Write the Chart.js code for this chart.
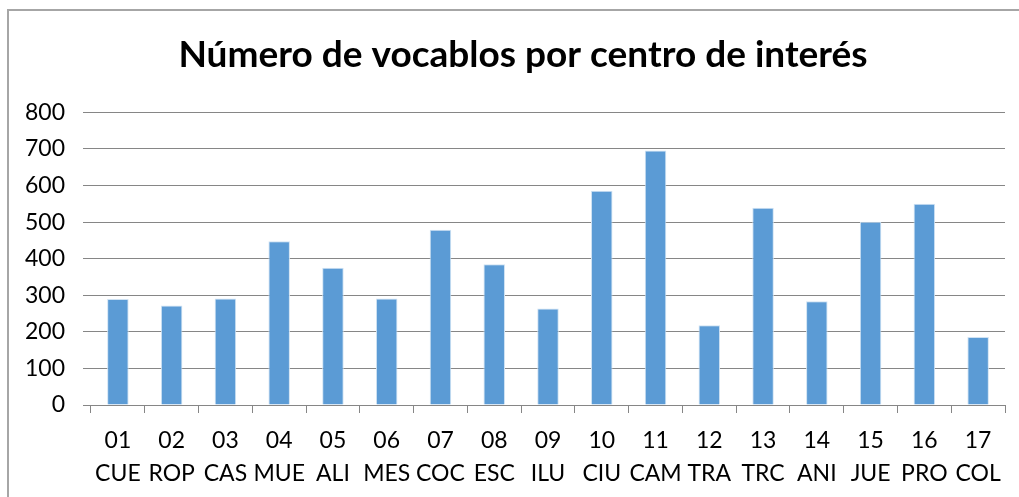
<!DOCTYPE html>
<html>
<head>
<meta charset="utf-8">
<script src="https://cdn.jsdelivr.net/npm/chart.js@4/dist/chart.umd.min.js"></script>
<style>
    html, body { margin: 0; padding: 0; background: #fff; }
    #wrap { width: 1019px; height: 497px; position: relative; }
</style>
</head>
<body>
<div id="wrap"><canvas id="vocabChart"></canvas></div>
<script>
// Data

const codes = ['01', '02', '03', '04', '05', '06', '07', '08', '09', '10', '11', '12', '13', '14', '15', '16', '17'];
const centers = ['CUE', 'ROP', 'CAS', 'MUE', 'ALI', 'MES', 'COC', 'ESC', 'ILU', 'CIU', 'CAM', 'TRA', 'TRC', 'ANI', 'JUE', 'PRO', 'COL'];
const vocablos = [290, 272, 291, 448, 375, 291, 479, 385, 264, 586, 696, 218, 539, 284, 501, 550, 186];
const yTicks = [0, 100, 200, 300, 400, 500, 600, 700, 800];

const chartTitle = 'Número de vocablos por centro de interés';
const fontFamily = 'Lato, "Open Sans", sans-serif';

const labels = codes.map((c, i) => [c, centers[i]]);

// frame round the chart, like the spreadsheet's chart border
const framePlugin = {
    id: 'frame',
    beforeDraw: (chart) => {
        const ctx = chart.ctx;
        ctx.save();
        ctx.strokeStyle = '#a6a6a6';
        ctx.lineWidth = 2;
        ctx.strokeRect(8, 10, 1100, 600);
        ctx.restore();
    }
};

const vocabChart = document.getElementById('vocabChart');

// the original chart box runs past the right edge of the picture,
// so the layout is widened a bit and an empty right axis pulls the plot back
const bar = new Chart(vocabChart, {
    type: 'bar',
    data: {
        labels: labels,
        datasets: [{
            label: 'Vocablos',
            data: vocablos,
            backgroundColor: '#5b9bd5',
            borderColor: '#cfe2f3',
            borderWidth: { top: 1, left: 1, right: 1, bottom: 0 },
            categoryPercentage: 1,
            barPercentage: 0.4,
        }],
    },
    options: {
        responsive: true,
        maintainAspectRatio: false,
        animation: false,
        layout: { padding: { left: 0, right: -27, top: 0, bottom: 0 } },
        plugins: {
            legend: { display: false },
            tooltip: { enabled: false },
            title: {
                display: true,
                text: chartTitle,
                color: '#000',
                font: { family: fontFamily, size: 37, weight: 'bold' },
                padding: { top: 33, bottom: 35 },
            },
        },
        scales: {
            x: {
                grid: {
                    offset: true,
                    drawOnChartArea: false,
                    color: '#868686',
                    tickLength: 8,
                },
                border: { color: '#868686' },
                ticks: {
                    color: '#000',
                    font: { family: fontFamily, size: 23, lineHeight: 1.45 },
                    padding: 11,
                    maxRotation: 0,
                    autoSkip: false,
                },
                afterFit: (scale) => { scale.height = 92; },
            },
            y: {
                min: 0,
                max: 800,
                afterBuildTicks: (scale) => { scale.ticks = yTicks.map(v => ({ value: v })); },
                grid: { color: '#868686', tickLength: 8 },
                border: { display: false },
                ticks: {
                    color: '#000',
                    font: { family: fontFamily, size: 23 },
                    padding: 18,
                },
                afterFit: (scale) => { scale.width = 91; },
            },
            yRight: {
                position: 'right',
                min: 0,
                max: 800,
                grid: { display: false },
                border: { display: false },
                ticks: { display: false },
                afterFit: (scale) => { scale.width = 41; },
            },
        },
    },
    plugins: [framePlugin],
});
</script>
</body>
</html>
